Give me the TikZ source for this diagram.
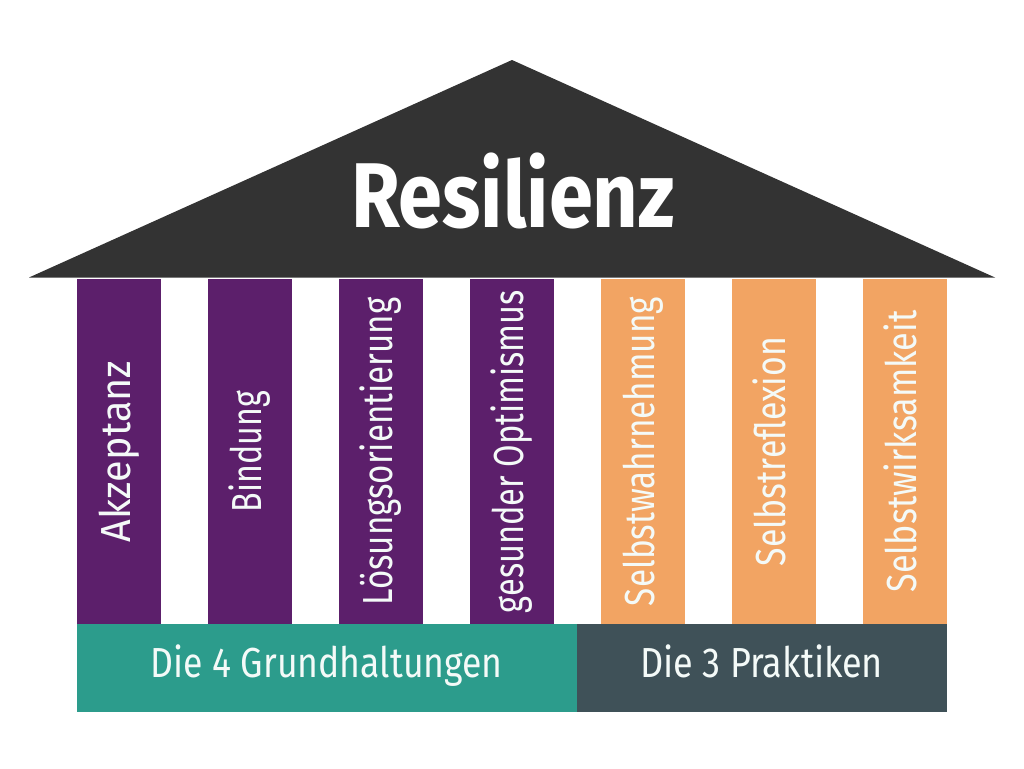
\documentclass[tikz,border=0pt]{standalone}
\usepackage{fontspec}
\setmainfont{Fira Sans}[FakeStretch=0.84]
\newfontfamily\titlefont{Fira Sans}[FakeStretch=0.85]
\definecolor{roofc}{HTML}{333333}
\definecolor{purplec}{HTML}{5C1F6B}
\definecolor{orangec}{HTML}{F2A463}
\definecolor{tealc}{HTML}{2C9C8C}
\definecolor{slatec}{HTML}{3F5158}
\definecolor{textc}{HTML}{F4FAF8}
\newcommand\fitw[2]{\setbox0\hbox{#2}\pgfmathsetmacro\fitsc{#1/\the\wd0}\scalebox{\fitsc}[1]{\box0}}
\begin{document}
\begin{tikzpicture}[x=1pt,y=-1pt,
  pillar/.style={text=textc,font=\fontsize{42}{46}\selectfont,rotate=90,anchor=base,inner sep=0pt},
  bartext/.style={text=textc,font=\fontsize{42}{46}\selectfont,anchor=base,inner sep=0pt}]
\useasboundingbox (0,0) rectangle (1024,768);
\fill[white] (0,0) rectangle (1024,768);
% roof
\fill[roofc] (29,277.5) -- (512,60) -- (995,277.5) -- cycle;
\node[text=white,font=\titlefont\bfseries\fontsize{92}{96}\selectfont,anchor=base,inner sep=0pt] (title) at (513,227) {\fitw{324}{Resilienz}};
% pillars
\foreach \i/\c/\w/\t in {0/purplec/181/Akzeptanz,1/purplec/121/Bindung,2/purplec/308/Lösungsorientierung,3/purplec/323/gesunder Optimismus,4/orangec/309/Selbstwahrnehmung,5/orangec/229/Selbstreflexion,6/orangec/282/Selbstwirksamkeit}{
  \pgfmathsetmacro{\xl}{77+131*\i}
  \fill[\c] (\xl,279) rectangle (\xl+83.5,624);
  \node[pillar] (p\i) at (\xl+41.75+11.5,451.5) {\fitw{\w}{\t}};
}
% base bars
\fill[tealc] (77,624) rectangle (576.5,711.5);
\fill[slatec] (576.5,624) rectangle (946.5,711.5);
\node[bartext] (b1) at (326.75,677) {\fitw{352}{Die 4 Grundhaltungen}};
\node[bartext] (b2) at (761.5,677) {\fitw{243}{Die 3 Praktiken}};
\end{tikzpicture}
\end{document}
